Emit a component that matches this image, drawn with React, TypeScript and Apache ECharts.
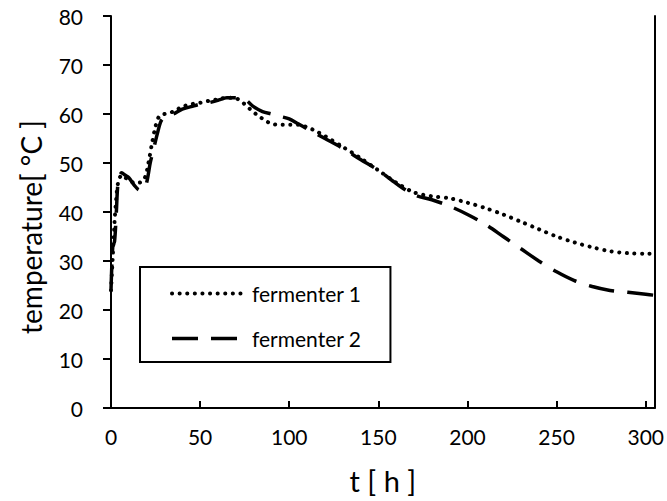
import React, { useEffect, useRef } from "react";
import * as echarts from "echarts";

const seriesNames = ["fermenter 1", "fermenter 2"];

const time1 = [0, 1, 2, 3, 4, 6, 8, 10, 13, 16, 19, 21, 23, 25, 27, 30, 35, 40, 45, 50, 55, 60, 65, 70, 74, 78, 82, 86, 90, 95, 100, 105, 110, 115, 120, 130, 140, 150, 160, 170, 180, 190, 200, 210, 220, 230, 240, 250, 260, 270, 280, 290, 300, 305];
const temp1 = [24, 31, 38, 43, 46, 47.5, 47, 46.5, 46, 46, 47, 50, 54, 57.5, 59.5, 60, 60.5, 61.5, 62, 62.3, 62.7, 63, 63.3, 63.2, 62.3, 61, 59.8, 58.8, 58, 57.8, 57.8, 57.8, 57.3, 56.5, 55.5, 53.3, 51, 48.5, 46, 44, 43.2, 42.8, 41.9, 40.8, 39.5, 38, 36.5, 35, 33.8, 32.8, 32, 31.6, 31.5, 31.5];

const time2 = [0, 1, 2, 3, 4, 6, 8, 10, 13, 16, 18, 20, 22, 24, 26, 28, 30, 35, 40, 45, 50, 55, 60, 65, 70, 75, 80, 85, 90, 95, 100, 105, 110, 120, 130, 140, 150, 160, 170, 180, 190, 200, 210, 220, 230, 240, 250, 260, 270, 280, 290, 300, 305];
const temp2 = [24, 33, 34, 40, 46, 48, 47.5, 47, 45.5, 44.5, 44.5, 46, 50, 53, 56, 58.5, 59.3, 60, 61, 61.5, 62, 62.3, 62.8, 63.3, 63.3, 63, 61.5, 60.5, 60, 59.5, 59, 58, 57, 55, 53, 50.7, 48.5, 45.8, 43.5, 42.5, 41.2, 39.5, 37.5, 35, 32.5, 30, 27.8, 26, 24.8, 24, 23.6, 23.2, 23];

const xTicks = [0, 50, 100, 150, 200, 250, 300];
const yTicks = [0, 10, 20, 30, 40, 50, 60, 70, 80];

const FONT = "Lato, 'Open Sans', sans-serif";

export default function App() {
  const ref = useRef<HTMLDivElement>(null);
  useEffect(() => {
    if (!ref.current) return;
    const chart = echarts.init(ref.current, null, { renderer: "svg" });
    const pairs = (t: number[], v: number[]) => t.map((x, i) => [x, v[i]]);
    chart.setOption({
      animation: false,
      backgroundColor: "#fff",
      textStyle: { fontFamily: FONT, color: "#000" },
      grid: { left: 111, right: 10, top: 16, bottom: 93, containLabel: false },
      legend: {
        orient: "vertical",
        left: 140,
        top: 267,
        padding: [16, 29, 13, 30],
        itemGap: 24,
        itemWidth: 75,
        itemHeight: 20,
        borderColor: "#000",
        borderWidth: 2,
        backgroundColor: "#fff",
        itemStyle: { opacity: 0 },
        lineStyle: { width: "inherit" },
        textStyle: { fontFamily: FONT, fontSize: 21, color: "#000", lineHeight: 20 },
        data: seriesNames,
      },
      xAxis: {
        type: "value",
        min: 0,
        max: 305,
        interval: 50,
        name: "t [ h ]",
        nameLocation: "middle",
        nameGap: 58,
        nameTextStyle: { fontFamily: FONT, fontSize: 29, color: "#000" },
        axisLine: { show: true, lineStyle: { color: "#000", width: 2 } },
        axisTick: { show: true, inside: true, length: 7, lineStyle: { color: "#000", width: 2 } },
        axisLabel: {
          fontFamily: FONT,
          fontSize: 21,
          color: "#000",
          margin: 18,
          showMaxLabel: false,
          formatter: (v: number) => (xTicks.includes(v) ? String(v) : ""),
        },
        splitLine: { show: false },
      },
      yAxis: [
        {
          type: "value",
          min: 0,
          max: 80,
          interval: 10,
          name: "temperature[ °C ]",
          nameLocation: "middle",
          nameGap: 66,
          nameRotate: 90,
          nameTextStyle: { fontFamily: FONT, fontSize: 28, color: "#000", padding: [0, 30, 0, 0] },
          axisLine: { show: true, lineStyle: { color: "#000", width: 2 } },
          axisTick: { show: true, inside: false, length: 8, lineStyle: { color: "#000", width: 2 } },
          axisLabel: {
            fontFamily: FONT,
            fontSize: 21,
            color: "#000",
            margin: 28,
            formatter: (v: number) => (yTicks.includes(v) ? String(v) : ""),
          },
          splitLine: { show: false },
        },
        {
          type: "value",
          position: "right",
          min: 0,
          max: 80,
          interval: 10,
          axisLine: { show: true, onZero: false, lineStyle: { color: "#000", width: 2 } },
          axisTick: { show: false },
          axisLabel: { show: false },
          splitLine: { show: false },
        },
      ],
      series: [
        {
          name: seriesNames[0],
          type: "line",
          data: pairs(time1, temp1),
          smooth: 0.3,
          showSymbol: false,
          symbol: "none",
          lineStyle: { color: "#000", width: 4, type: [0.1, 7.5], cap: "round" },
          itemStyle: { color: "#000" },
        },
        {
          name: seriesNames[1],
          type: "line",
          data: pairs(time2, temp2),
          smooth: 0.3,
          showSymbol: false,
          symbol: "none",
          lineStyle: { color: "#000", width: 3.5, type: [26, 13] },
          itemStyle: { color: "#000" },
        },
      ],
    });
    return () => chart.dispose();
  }, []);
  return <div ref={ref} style={{ width: 667, height: 501, position: "absolute", left: 0, top: 0 }} />;
}
